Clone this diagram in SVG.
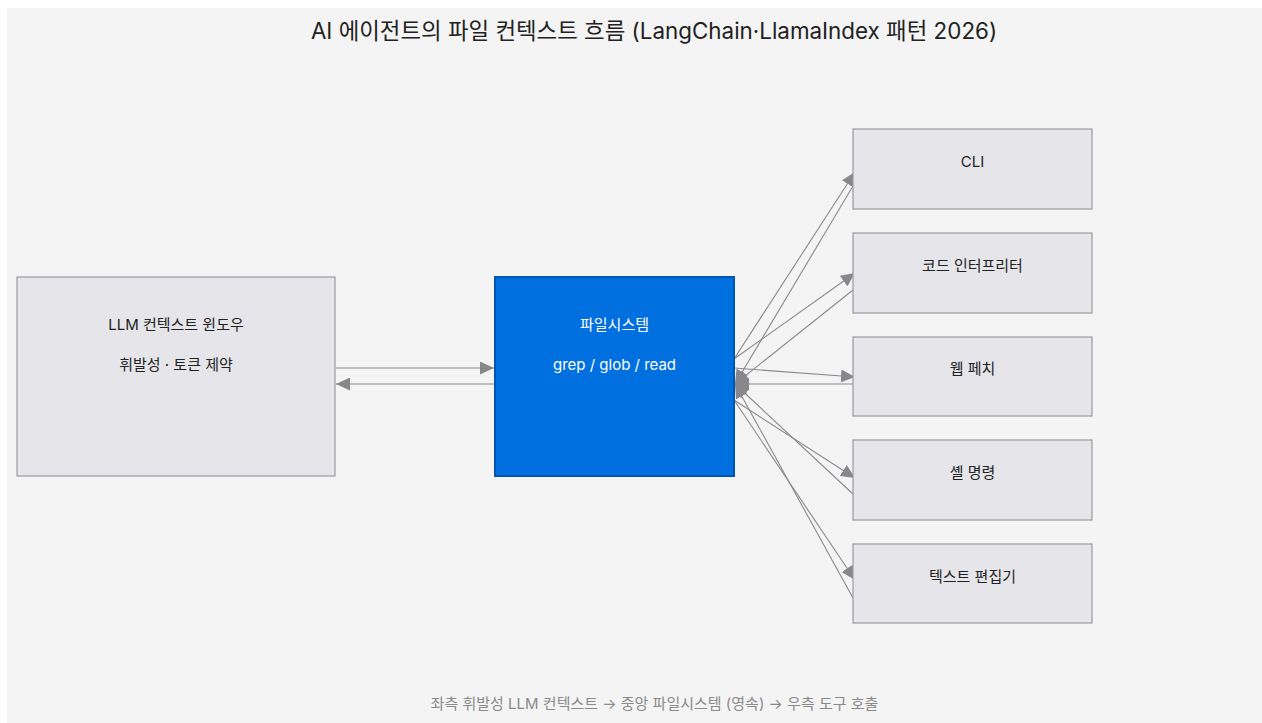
<svg xmlns="http://www.w3.org/2000/svg" width="1262" height="723" viewBox="0 0 1262 723">
<style>
.t{font-family:Inter,"Noto Sans CJK KR",sans-serif;}
.node{fill:#e6e6ea;stroke:#9a9a9e;stroke-width:1.2;}
.nl{font-size:15px;fill:#222;text-anchor:middle;}
.fs{fill:#006fe0;stroke:#0055b3;stroke-width:2;}
.fl{font-size:15px;fill:#fff;text-anchor:middle;}
.e{stroke:#8a8a8e;stroke-width:1.1;fill:none;marker-end:url(#ah);}
</style>
<defs>
<marker id="ah" viewBox="0 0 14 13" refX="14" refY="6.5" markerWidth="14" markerHeight="13" markerUnits="userSpaceOnUse" orient="auto">
<path d="M0,0 L14,6.5 L0,13 Z" fill="#88888c"/>
</marker>
</defs>
<rect x="0" y="0" width="1262" height="723" fill="#fff"/>
<rect x="7" y="8" width="1255" height="715" fill="#f4f4f4"/>
<text class="t" x="654" y="39" font-size="22.4" fill="#222" text-anchor="middle">AI 에이전트의 파일 컨텍스트 흐름 (LangChain·LlamaIndex 패턴 2026)</text>
<g id="connectors">
<path class="e" d="M336,368 L494,368"/>
<path class="e" d="M494,384 L336,384"/>
<path class="e" d="M734,359 L855,172"/>
<path class="e" d="M734,359 L855,273"/>
<path class="e" d="M734,368 L855,377"/>
<path class="e" d="M734,400 L855,478"/>
<path class="e" d="M734,400 L855,580"/>
<path class="e" d="M853,186 L735,384"/>
<path class="e" d="M853,290 L735,384"/>
<path class="e" d="M853,384 L735,384"/>
<path class="e" d="M853,494 L735,384"/>
<path class="e" d="M853,598 L735,384"/>
</g>
<g id="llm">
<rect class="node" x="17" y="277" width="318" height="199"/>
<text class="t nl" x="176" y="330">LLM 컨텍스트 윈도우</text>
<text class="t nl" x="176" y="370">휘발성 · 토큰 제약</text>
</g>
<g id="filesystem">
<rect class="fs" x="495" y="277" width="239" height="199"/>
<text class="t fl" x="614.5" y="330">파일시스템</text>
<text class="t fl" x="614.5" y="370">grep / glob / read</text>
</g>
<g id="cli">
<rect class="node" x="853" y="129" width="239" height="80"/>
<text class="t nl" x="972.5" y="167">CLI</text>
</g>
<g id="code">
<rect class="node" x="853" y="233" width="239" height="80"/>
<text class="t nl" x="972.5" y="271">코드 인터프리터</text>
</g>
<g id="web">
<rect class="node" x="853" y="337" width="239" height="79"/>
<text class="t nl" x="972.5" y="374">웹 페치</text>
</g>
<g id="shell">
<rect class="node" x="853" y="440" width="239" height="80"/>
<text class="t nl" x="972.5" y="478">셸 명령</text>
</g>
<g id="editor">
<rect class="node" x="853" y="544" width="239" height="79"/>
<text class="t nl" x="972.5" y="582">텍스트 편집기</text>
</g>
<text class="t" x="654.5" y="709" font-size="15" fill="#8a8a8a" text-anchor="middle">좌측 휘발성 LLM 컨텍스트 → 중앙 파일시스템 (영속) → 우측 도구 호출</text>
</svg>
